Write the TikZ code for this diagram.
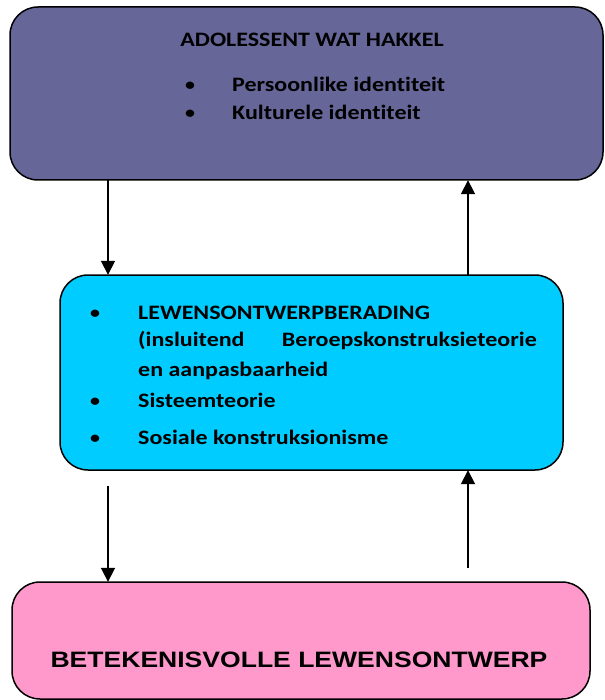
\documentclass[tikz,border=0pt]{standalone}
\usepackage{fontspec}
\setmainfont{Carlito}[Ligatures=NoCommon]
\newfontfamily\arialfont{Liberation Sans}
\usetikzlibrary{arrows.meta}
\definecolor{topfill}{HTML}{666699}
\definecolor{midfill}{HTML}{00CCFF}
\definecolor{botfill}{HTML}{FF99CC}
\newcommand{\wide}[1]{\scalebox{1.17}[1]{#1}}
\newcommand{\wider}[1]{\scalebox{1.19}[1]{#1}}
\tikzset{
  box/.style={draw=black, line width=1.5pt, rounded corners=28pt},
  txt/.style={font=\fontsize{20.5}{24}\selectfont\bfseries, inner sep=0pt, anchor=base west},
  bul/.style={font=\fontsize{20.5}{24}\selectfont, inner sep=0pt, anchor=base},
  arr/.style={line width=1.8pt, -{Triangle[width=14pt,length=14pt]}}
}
\begin{document}
\begin{tikzpicture}[x=1pt,y=-1pt]
\useasboundingbox (0,0) rectangle (604,700);
% boxes
\path[box, fill=topfill] (10,7) rectangle (603,180);
\node[inner sep=0pt, minimum width=593pt, minimum height=173pt] (top) at (306.5,93.5) {};
\path[box, fill=midfill] (60,275) rectangle (563,470);
\node[inner sep=0pt, minimum width=503pt, minimum height=195pt] (mid) at (311.5,372.5) {};
\path[box, fill=botfill] (12,582) rectangle (590,699);
\node[inner sep=0pt, minimum width=578pt, minimum height=117pt] (bot) at (301,640.5) {};
% top text
\node[txt, anchor=base] (t1) at (312,47) {\wide{ADOLESSENT WAT HAKKEL}};
\node[bul] (b1) at (190,92) {\wide{•}};
\node[txt] (t2) at (232,92) {\wide{Persoonlike identiteit}};
\node[bul] (b2) at (190,120) {\wide{•}};
\node[txt] (t3) at (232,120) {\wide{Kulturele identiteit}};
% middle text
\node[bul] (m1) at (95,319) {\wide{•}};
\node[txt] (mt1) at (138,319) {\wide{LEWENSONTWERPBERADING}};
\node[txt] (mt2) at (138,346) {\wide{(insluitend}};
\node[txt, anchor=base east] (mt3) at (537,346) {\wide{Beroepskonstruksieteorie}};
\node[txt] (mt4) at (138,376) {\wide{en aanpasbaarheid}};
\node[bul] (m2) at (95,407) {\wide{•}};
\node[txt] (mt5) at (138,407) {\wide{Sisteemteorie}};
\node[bul] (m3) at (95,444) {\wide{•}};
\node[txt] (mt6) at (138,444) {\wide{Sosiale konstruksionisme}};
% bottom text
\node[font=\arialfont\fontsize{22.3}{26}\selectfont\bfseries, inner sep=0pt, anchor=base] (bt) at (299,667) {\wider{BETEKENISVOLLE LEWENSONTWERP}};
% connectors
\coordinate (c1) at (108,486);
\coordinate (c2) at (468,568);
\draw[arr] (top.south -| c1) -- (mid.north -| c1);
\draw[arr] (mid.north -| c2) -- (top.south -| c2);
\draw[arr] (c1) -- (bot.north -| c1);
\draw[arr] (c2) -- (mid.south -| c2);
\end{tikzpicture}
\end{document}
